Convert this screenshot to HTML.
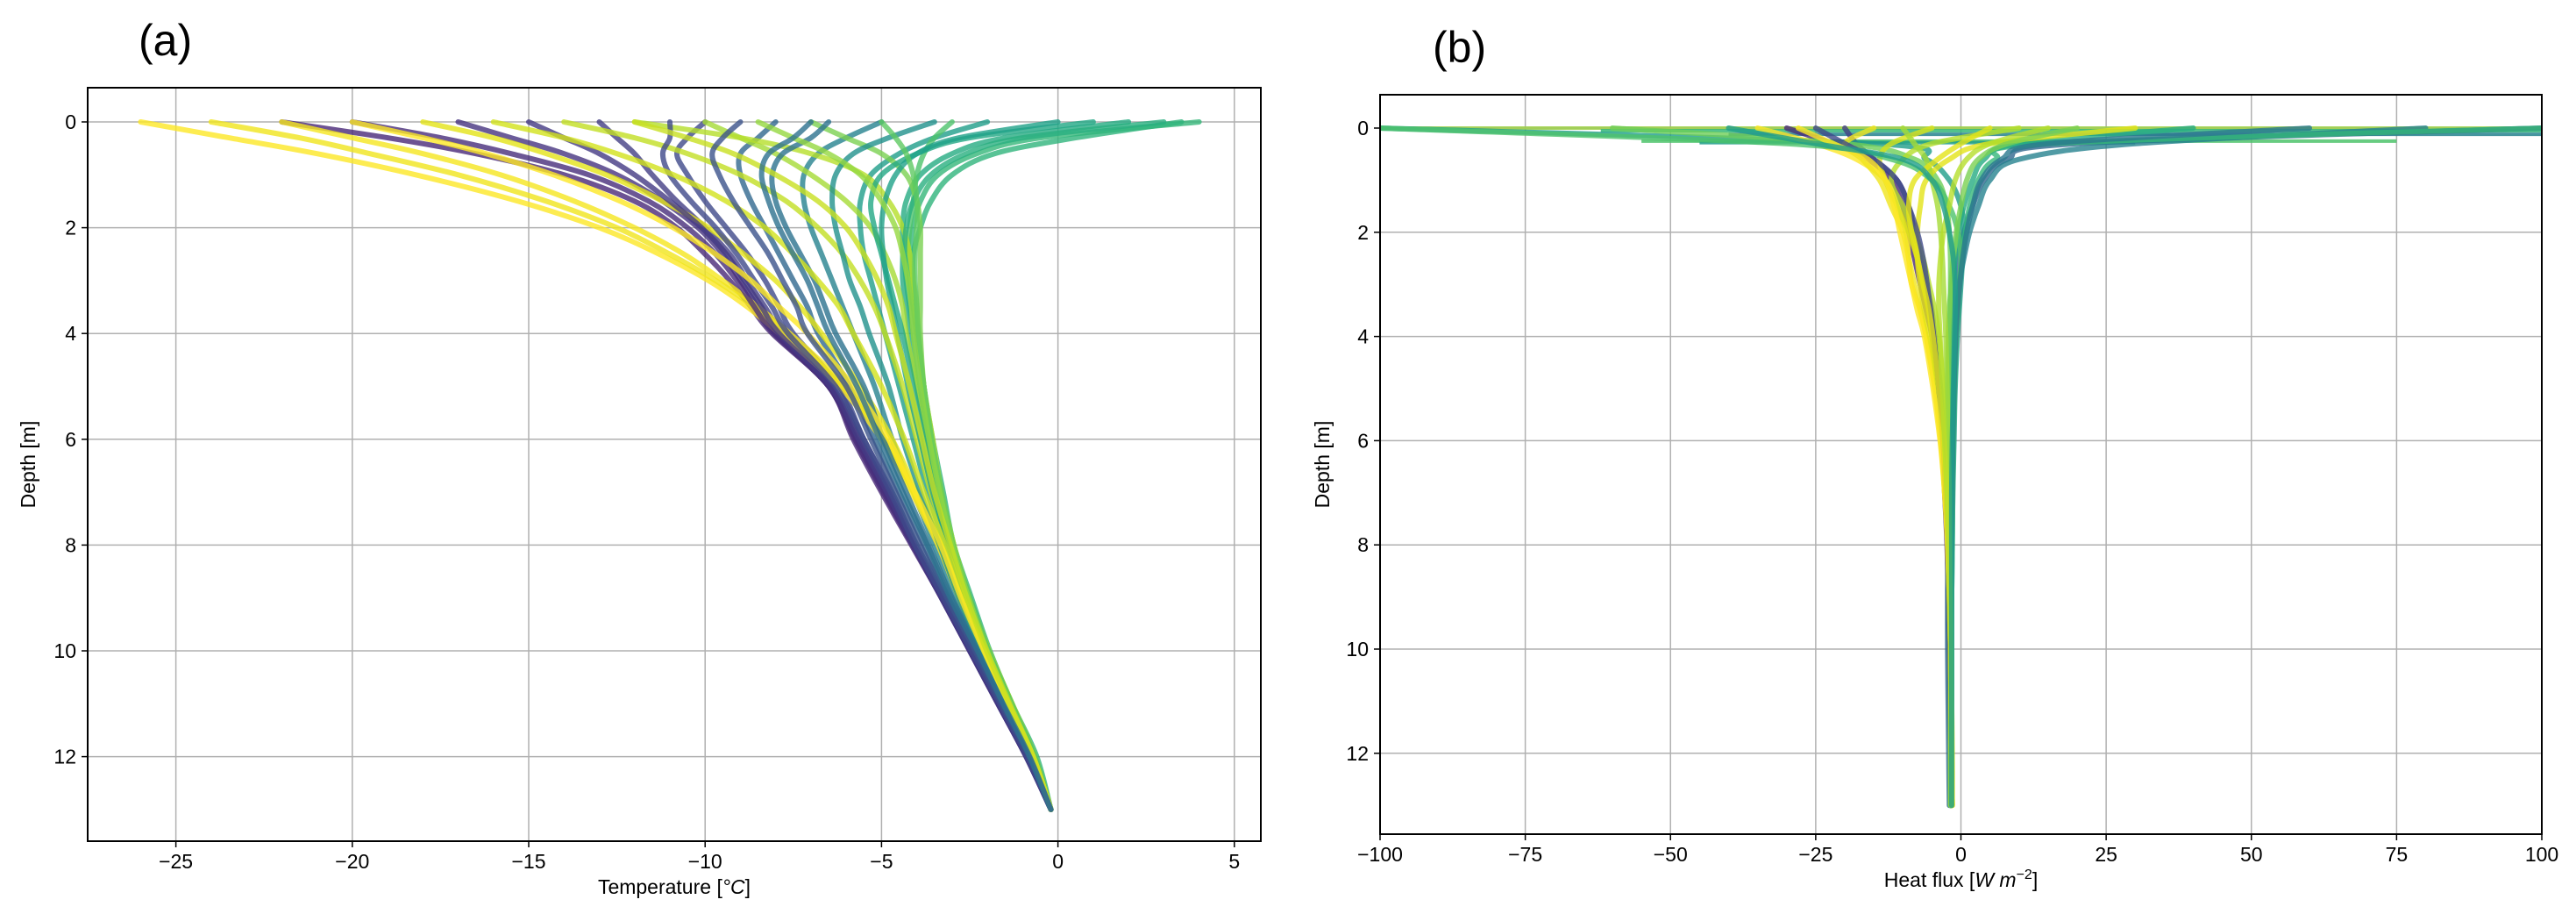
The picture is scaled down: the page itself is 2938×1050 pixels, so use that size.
<!DOCTYPE html>
<html><head><meta charset="utf-8"><style>
html,body{margin:0;padding:0;background:#fff;}
svg{display:block;font-family:"Liberation Sans","DejaVu Sans",sans-serif;}
</style></head><body>
<svg id="fig" width="2938" height="1050" viewBox="0 0 2938 1050" xmlns="http://www.w3.org/2000/svg">
<rect width="2938" height="1050" fill="#fff"/>
<text x="158" y="63" font-size="50">(a)</text>
<text x="1634" y="71" font-size="50">(b)</text>
<g id="pa"></g>
<g id="pb"></g>
</svg>
<script>
const depths = [0,0.3,0.6,1,1.5,2,2.5,3,3.5,4,5,6,7,8,9,10,11,12,13];
const yTicks = [0,2,4,6,8,10,12];
const tempTicks = [-25,-20,-15,-10,-5,0,5];
const fluxTicks = [-100,-75,-50,-25,0,25,50,75,100];
const tempColors = ["#482878","#46337f","#433e85","#3e4989","#31688e","#26828e","#1f9e89","#25ab82","#35b779","#2fb47c","#4ec36b","#7ad151","#a5db36","#c2df23","#e3e418","#f5e61f","#fde725","#f0e51d","#b5de2b","#22a884",
"#472d7b","#443a83","#3e4989","#2c728e","#21918c","#1fa188","#29af7f","#5ec962","#95d840","#d2e21b","#fde725","#c8e020","#3b528b","#2d708e"];
const tempProfiles = [
[-22,-19,-16.5,-14,-12,-10.8,-10,-9.3,-8.7,-8.1,-6.5,-5.8,-5.0,-4.15,-3.3,-2.5,-1.7,-0.9,-0.2],
[-17,-15.5,-14,-12.5,-11.2,-10.2,-9.5,-9,-8.5,-8,-6.5,-5.7,-4.9,-4.1,-3.3,-2.5,-1.7,-0.9,-0.2],
[-13,-12.5,-12,-11.5,-10.8,-10,-9.3,-8.8,-8.3,-7.8,-6.4,-5.6,-4.8,-4.1,-3.3,-2.5,-1.7,-0.9,-0.2],
[-10,-10.5,-10.8,-10.5,-10,-9.4,-8.8,-8.3,-7.9,-7.5,-6.2,-5.5,-4.7,-4.0,-3.2,-2.4,-1.6,-0.85,-0.2],
[-8,-8.5,-9,-9,-8.7,-8.3,-7.9,-7.5,-7.1,-6.8,-5.9,-5.2,-4.5,-3.8,-3.1,-2.3,-1.6,-0.8,-0.2],
[-5,-6,-6.8,-7.2,-7.2,-7,-6.7,-6.4,-6.1,-5.8,-5.2,-4.7,-4.1,-3.5,-2.9,-2.2,-1.5,-0.8,-0.2],
[-2,-3.5,-4.5,-5.3,-5.6,-5.6,-5.5,-5.3,-5.1,-4.9,-4.5,-4.1,-3.7,-3.2,-2.7,-2.1,-1.4,-0.75,-0.2],
[2,-1.5,-3,-3.9,-4.3,-4.4,-4.4,-4.4,-4.3,-4.2,-4.0,-3.7,-3.4,-3.0,-2.5,-2.0,-1.35,-0.7,-0.2],
[4,-0.5,-2.3,-3.4,-3.9,-4.1,-4.2,-4.2,-4.1,-4.0,-3.8,-3.6,-3.3,-3.0,-2.5,-1.95,-1.3,-0.65,-0.2],
[3.5,0.5,-1.8,-3.0,-3.6,-3.9,-4.1,-4.1,-4.05,-4.0,-3.8,-3.55,-3.25,-2.95,-2.45,-1.93,-1.3,-0.6,-0.2],
[-3,-3.5,-3.8,-4.0,-4.1,-4.2,-4.25,-4.2,-4.1,-4.0,-3.8,-3.6,-3.3,-2.95,-2.5,-1.95,-1.3,-0.65,-0.2],
[-7,-6,-5,-4.3,-4,-3.9,-3.9,-3.9,-3.9,-3.9,-3.8,-3.6,-3.3,-3.0,-2.5,-2.0,-1.35,-0.7,-0.2],
[-10,-9,-8,-7,-6,-5.3,-4.9,-4.6,-4.4,-4.3,-4.0,-3.7,-3.4,-3.0,-2.55,-2.0,-1.35,-0.7,-0.2],
[-14,-12,-10.5,-9,-7.7,-6.8,-6.1,-5.6,-5.2,-4.9,-4.4,-4.0,-3.6,-3.1,-2.6,-2.05,-1.4,-0.7,-0.2],
[-18,-16,-14.5,-12.8,-11.2,-9.9,-8.9,-8.0,-7.3,-6.7,-5.6,-4.7,-4.0,-3.3,-2.75,-2.1,-1.4,-0.7,-0.2],
[-22,-20,-18,-15.8,-13.7,-12,-10.6,-9.5,-8.5,-7.6,-6.0,-4.9,-4.1,-3.35,-2.75,-2.1,-1.4,-0.7,-0.2],
[-26,-23.5,-21,-18.2,-15.3,-13,-11.3,-9.9,-8.8,-7.9,-6.2,-5.0,-4.15,-3.4,-2.8,-2.1,-1.4,-0.7,-0.2],
[-24,-21.5,-19.5,-17,-14.5,-12.5,-11,-9.7,-8.6,-7.7,-6.1,-4.9,-4.1,-3.35,-2.75,-2.1,-1.4,-0.7,-0.2],
[-12,-9,-7,-5.5,-4.8,-4.4,-4.2,-4.1,-4.0,-3.95,-3.8,-3.55,-3.3,-2.95,-2.5,-1.95,-1.3,-0.65,-0.2],
[1,-2.5,-4,-5,-5.3,-5.2,-5,-4.8,-4.6,-4.4,-4.1,-3.8,-3.5,-3.1,-2.6,-2.05,-1.4,-0.7,-0.2],
[-20,-17.5,-15.5,-13.3,-11.6,-10.5,-9.7,-9.1,-8.6,-8.05,-6.5,-5.75,-4.95,-4.12,-3.3,-2.5,-1.7,-0.9,-0.2],
[-15,-14,-13,-12,-11,-10.1,-9.4,-8.9,-8.4,-7.9,-6.45,-5.65,-4.85,-4.1,-3.3,-2.5,-1.7,-0.9,-0.2],
[-11,-11,-11.2,-11,-10.4,-9.7,-9.1,-8.6,-8.1,-7.65,-6.3,-5.5,-4.75,-4.05,-3.25,-2.45,-1.65,-0.88,-0.2],
[-6.5,-7,-7.8,-8.1,-8,-7.7,-7.3,-6.9,-6.6,-6.3,-5.5,-4.95,-4.3,-3.65,-3.0,-2.25,-1.55,-0.8,-0.2],
[-3.5,-4.8,-5.8,-6.3,-6.4,-6.3,-6.1,-5.9,-5.6,-5.35,-4.8,-4.4,-3.9,-3.35,-2.8,-2.15,-1.45,-0.78,-0.2],
[0,-2.8,-4,-4.6,-4.9,-5,-4.95,-4.85,-4.7,-4.55,-4.25,-3.9,-3.55,-3.1,-2.6,-2.05,-1.4,-0.72,-0.2],
[3,-1,-2.6,-3.6,-4.1,-4.3,-4.35,-4.3,-4.2,-4.1,-3.9,-3.65,-3.35,-3.0,-2.5,-1.97,-1.32,-0.66,-0.2],
[-5,-4.6,-4.3,-4.1,-4.0,-4.0,-4.05,-4.05,-4.0,-3.95,-3.8,-3.58,-3.3,-2.97,-2.5,-1.97,-1.32,-0.66,-0.2],
[-8.5,-7.5,-6.5,-5.6,-5.0,-4.6,-4.4,-4.25,-4.15,-4.1,-3.9,-3.65,-3.35,-3.0,-2.53,-2.0,-1.35,-0.7,-0.2],
[-16,-14,-12.5,-10.9,-9.4,-8.3,-7.5,-6.8,-6.2,-5.8,-5.0,-4.35,-3.8,-3.2,-2.68,-2.08,-1.4,-0.7,-0.2],
[-20,-18,-16.2,-14.3,-12.4,-10.9,-9.7,-8.7,-7.9,-7.1,-5.8,-4.8,-4.05,-3.32,-2.75,-2.1,-1.4,-0.7,-0.2],
[-12,-10.5,-9.2,-8,-6.8,-6,-5.5,-5.1,-4.8,-4.6,-4.2,-3.85,-3.5,-3.05,-2.58,-2.02,-1.38,-0.7,-0.2],
[-9,-9.5,-9.8,-9.6,-9.2,-8.7,-8.2,-7.8,-7.4,-7.1,-6.0,-5.3,-4.6,-3.9,-3.15,-2.35,-1.6,-0.82,-0.2],
[-7,-7.5,-8.2,-8.4,-8.2,-7.9,-7.5,-7.1,-6.8,-6.5,-5.7,-5.05,-4.4,-3.7,-3.05,-2.28,-1.55,-0.8,-0.2]
];
const fluxColors = ["#482878","#433e85","#31688e","#26828e","#1f9e89","#35b779","#25ab82","#6ece58","#b5de2b","#fde725","#f0e51d","#e3e418","#d8e219","#4ec36b",
"#3e4989","#2a788e","#7ad151","#a5db36","#fde725","#e3e418","#b5de2b","#1f9e89"];
const fluxProfiles = [
[-30,-22,-16,-12,-10,-9,-8,-7,-6,-5,-4,-3.3,-2.8,-2.4,-2.2,-2,-1.9,-1.8,-1.8],
[-20,-18,-15,-11,-9,-8,-7,-6,-5,-4.5,-3.5,-3,-2.6,-2.3,-2.1,-2,-1.9,-1.8,-1.8],
[100,20,8,4,2,0.5,-0.5,-1,-1.3,-1.5,-1.7,-1.8,-1.9,-2.2,-2.3,-2.3,-2.2,-2.1,-2.0],
[80,30,10,5,3,1.5,0.5,-0.3,-0.7,-1,-1.3,-1.5,-1.6,-1.7,-1.8,-1.8,-1.8,-1.8,-1.8],
[-100,-15,-6,-2,0,0.5,0.3,0,-0.3,-0.6,-1,-1.2,-1.4,-1.5,-1.6,-1.7,-1.7,-1.7,-1.7],
[100,15,6,3,1.5,0.8,0.2,-0.2,-0.5,-0.8,-1.1,-1.3,-1.4,-1.5,-1.6,-1.6,-1.6,-1.6,-1.6],
[40,10,4,2,0.5,-0.5,-1,-1.5,-1.8,-2,-2.1,-2.1,-2,-1.9,-1.8,-1.8,-1.8,-1.8,-1.8],
[-60,-20,-8,-4,-2.5,-2,-1.8,-1.8,-1.8,-1.8,-1.8,-1.8,-1.8,-1.7,-1.7,-1.7,-1.7,-1.7,-1.7],
[10,-5,-10,-12,-10,-8,-6.5,-5.5,-4.5,-3.8,-3,-2.5,-2.2,-2,-1.9,-1.8,-1.7,-1.7,-1.6],
[-35,-25,-18,-13,-11,-9.5,-9,-8.5,-7,-6,-4.5,-3.3,-2.6,-2.2,-2,-1.8,-1.7,-1.6,-1.5],
[-15,-20,-17,-14,-12,-10,-9,-8,-7,-6,-4.5,-3.5,-2.8,-2.3,-2,-1.8,-1.7,-1.6,-1.5],
[30,5,-2,-6,-7,-7.5,-7.5,-7,-6.3,-5.5,-4.2,-3.2,-2.6,-2.2,-1.9,-1.8,-1.7,-1.6,-1.5],
[-5,-12,-14,-13,-11,-9,-7.5,-6.5,-5.5,-5,-4,-3,-2.5,-2.1,-1.9,-1.7,-1.6,-1.5,-1.5],
[-100,-30,-12,-5,-2,-0.5,0,-0.3,-0.6,-0.9,-1.2,-1.4,-1.5,-1.6,-1.6,-1.6,-1.6,-1.6,-1.6],
[-25,-20,-15,-11,-9,-7.5,-6.5,-5.8,-5.2,-4.7,-3.8,-3.1,-2.6,-2.2,-2,-1.9,-1.8,-1.75,-1.7],
[60,15,7,3.5,2,1,0.3,-0.2,-0.6,-0.9,-1.2,-1.4,-1.5,-1.6,-1.7,-1.7,-1.7,-1.7,-1.7],
[20,8,3,1,0,-0.8,-1.3,-1.7,-2,-2.2,-2.3,-2.2,-2.1,-2,-1.9,-1.8,-1.8,-1.8,-1.8],
[-10,-8,-6,-5,-4,-3.5,-3.2,-3,-2.8,-2.6,-2.4,-2.2,-2,-1.9,-1.8,-1.7,-1.7,-1.7,-1.7],
[-28,-22,-16,-13,-11.5,-10.5,-9.5,-8.5,-7.5,-6.3,-4.8,-3.6,-2.8,-2.3,-2,-1.8,-1.7,-1.6,-1.5],
[5,0,-4,-8,-9,-8.5,-7.5,-6.5,-5.5,-4.8,-3.8,-3,-2.5,-2.1,-1.9,-1.8,-1.7,-1.6,-1.5],
[15,5,1,-1,-2,-3,-3.5,-3.8,-3.8,-3.6,-3.2,-2.8,-2.4,-2.1,-1.9,-1.8,-1.7,-1.6,-1.6],
[-40,-25,-10,-5,-3,-2,-1.3,-1,-1,-1.1,-1.3,-1.5,-1.6,-1.6,-1.6,-1.6,-1.6,-1.6,-1.6]
];
const surfDepth = [0,0.05,0.12,0.25,0.28];
const surfMin = [-100,-62,-40,-55,-45];
const surfMax = [100,100,100,75,30];
const surfColors = ["#9cd046","#35b779","#26828e","#4ec36b","#1f9e89"];

const NS="http://www.w3.org/2000/svg";
function mk(tag,attrs,parent){const e=document.createElementNS(NS,tag);for(const k in attrs)e.setAttribute(k,attrs[k]);parent.appendChild(e);return e;}
function smoothPath(pts){
  let d="M"+pts[0][0].toFixed(1)+","+pts[0][1].toFixed(1);
  for(let i=0;i<pts.length-1;i++){
    const p0=pts[Math.max(0,i-1)],p1=pts[i],p2=pts[i+1],p3=pts[Math.min(pts.length-1,i+2)];
    const c1=[p1[0]+(p2[0]-p0[0])/6,p1[1]+(p2[1]-p0[1])/6];
    const c2=[p2[0]-(p3[0]-p1[0])/6,p2[1]-(p3[1]-p1[1])/6];
    d+=" C"+c1[0].toFixed(1)+","+c1[1].toFixed(1)+" "+c2[0].toFixed(1)+","+c2[1].toFixed(1)+" "+p2[0].toFixed(1)+","+p2[1].toFixed(1);
  }
  return d;
}

function panel(g,cfg){
  const X=v=>cfg.left+(v-cfg.xmin)/(cfg.xmax-cfg.xmin)*(cfg.right-cfg.left);
  const Y=d=>cfg.y0+d*cfg.ppm;
  const clipId=cfg.id+"clip";
  const cp=mk("clipPath",{id:clipId},g);
  mk("rect",{x:cfg.left,y:cfg.top,width:cfg.right-cfg.left,height:cfg.bottom-cfg.top},cp);
  cfg.xticks.forEach(t=>{
    const l=mk("line",{x1:X(t),x2:X(t),y1:cfg.top,y2:cfg.bottom,stroke:"#b0b0b0","stroke-width":1.5},g);
    
    
  });
  yTicks.forEach(t=>{
    const l=mk("line",{x1:cfg.left,x2:cfg.right,y1:Y(t),y2:Y(t),stroke:"#b0b0b0","stroke-width":1.5},g);
    
    
  });
  const lg=mk("g",{"clip-path":"url(#"+clipId+")"},g);
  
  
  if(cfg.surf){
    cfg.surf.d.forEach((d,i)=>{
      const l=mk("line",{x1:X(cfg.surf.min[i]),x2:X(cfg.surf.max[i]),y1:Y(d),y2:Y(d),stroke:cfg.surf.c[i],"stroke-width":4,"stroke-opacity":0.85},lg);
      
      
    });
  }
  cfg.profiles.forEach((p,i)=>{
    const pts=p.map((v,j)=>[X(v),Y(depths[j])]);
    const pl=mk("path",{d:smoothPath(pts),fill:"none",stroke:cfg.colors[i%cfg.colors.length],"stroke-width":cfg.sw,"stroke-opacity":0.8,"stroke-linejoin":"round","stroke-linecap":"round"},lg);
    
    
  });
  const fr=mk("rect",{x:cfg.left,y:cfg.top,width:cfg.right-cfg.left,height:cfg.bottom-cfg.top,fill:"none",stroke:"#000","stroke-width":2},g);
  
  
  cfg.xticks.forEach(t=>{
    mk("line",{x1:X(t),x2:X(t),y1:cfg.bottom,y2:cfg.bottom+7,stroke:"#000","stroke-width":1.5},g);
    const tx=mk("text",{x:X(t),y:cfg.bottom+31,"font-size":23,"text-anchor":"middle"},g);
    tx.textContent=(t<0?"\u2212"+(-t):String(t));
    
    
  });
  yTicks.forEach(t=>{
    mk("line",{x1:cfg.left-7,x2:cfg.left,y1:Y(t),y2:Y(t),stroke:"#000","stroke-width":1.5},g);
    const tx=mk("text",{x:cfg.left-13,y:Y(t)+8,"font-size":23,"text-anchor":"end"},g);
    tx.textContent=String(t);
    
    
  });
  const xl=mk("text",{x:(cfg.left+cfg.right)/2,y:cfg.bottom+60,"font-size":23,"text-anchor":"middle"},g);
  xl.innerHTML=cfg.xlabel;
  
  
  const cy=(cfg.top+cfg.bottom)/2;
  const yl=mk("text",{x:cfg.ylx,y:cy,"font-size":23,"text-anchor":"middle",transform:"rotate(-90 "+cfg.ylx+" "+cy+")"},g);
  yl.textContent="Depth [m]";
  
  
}
panel(document.getElementById("pa"),{id:"a",left:100,right:1438,top:100,bottom:959,xmin:-27.5,xmax:5.75,y0:139,ppm:60.3,xticks:tempTicks,profiles:tempProfiles,colors:tempColors,sw:6,ylx:40,
  xlabel:'Temperature [<tspan font-style="italic">°C</tspan>]'});
panel(document.getElementById("pb"),{id:"b",left:1574,right:2899,top:108,bottom:951,xmin:-100,xmax:100,y0:146,ppm:59.4,xticks:fluxTicks,profiles:fluxProfiles,colors:fluxColors,sw:6,ylx:1516,
  surf:{d:surfDepth,min:surfMin,max:surfMax,c:surfColors},
  xlabel:'Heat flux [<tspan font-style="italic">W m</tspan><tspan dy="-9" font-size="16">−2</tspan><tspan dy="9">]</tspan>'});
</script>
</body></html>
